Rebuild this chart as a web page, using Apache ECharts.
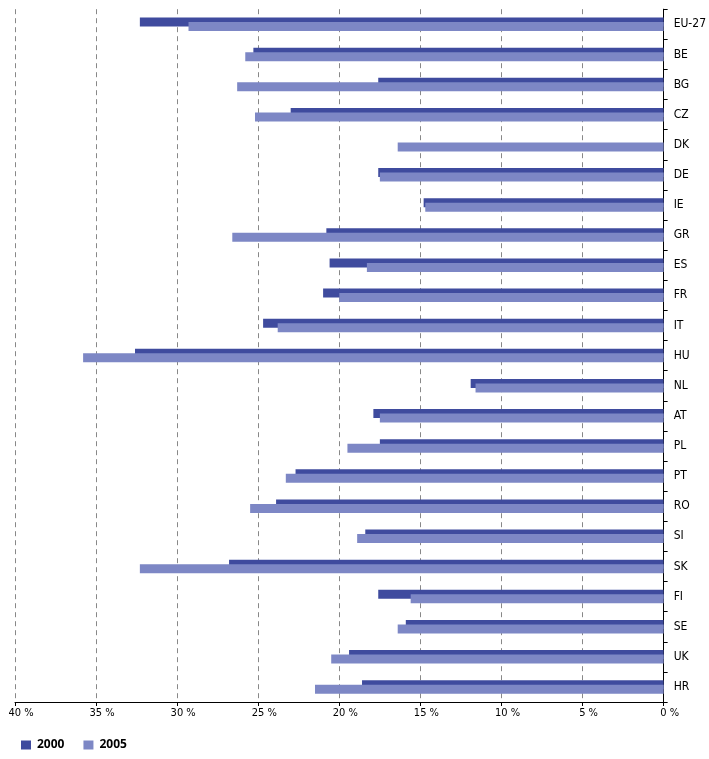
<!DOCTYPE html>
<html>
<head>
<meta charset="utf-8">
<script src="https://cdn.jsdelivr.net/npm/echarts@6/dist/echarts.min.js"></script>
<style>
html,body{margin:0;padding:0;background:#fff;}
#chart{width:709px;height:759px;}
</style>
</head>
<body>
<div id="chart"></div>
<script>
const categories = ["EU-27","BE","BG","CZ","DK","DE","IE","GR","ES","FR","IT","HU","NL","AT","PL","PT","RO","SI","SK","FI","SE","UK","HR"];
const values2000 = [32.3,25.3,17.6,23.0,null,17.6,14.8,20.8,20.6,21.0,24.7,32.6,11.9,17.9,17.5,22.7,23.9,18.4,26.8,17.6,15.9,19.4,18.6];
const values2005 = [29.3,25.8,26.3,25.2,16.4,17.5,14.7,26.6,18.3,20.0,23.8,35.8,11.6,17.5,19.5,23.3,25.5,18.9,32.3,15.6,16.4,20.5,21.5];
const xTicks = [0,5,10,15,20,25,30,35,40];

const FONT = '"Liberation Sans Narrow","DejaVu Sans Condensed","Open Sans",sans-serif';
const chart = echarts.init(document.getElementById('chart'));
chart.setOption({
  animation:false,
  backgroundColor:'#fff',
  textStyle:{fontFamily:FONT},
  grid:{left:15,right:40,top:9.2,bottom:57,containLabel:false},
  legend:{
    left:16, top:734, itemWidth:10, itemHeight:9, itemGap:19,
    icon:'rect',
    textStyle:{fontWeight:'bold',fontSize:12,color:'#000',fontFamily:'"Open Sans","DejaVu Sans",sans-serif',padding:[0,0,0,1]},
    data:['2000','2005']
  },
  xAxis:{
    type:'value', inverse:true, min:xTicks[0], max:xTicks[xTicks.length-1], interval:5,
    axisLine:{show:true,lineStyle:{color:'#000',width:1}},
    axisTick:{show:true,length:4,lineStyle:{color:'#000'}},
    axisLabel:{formatter:v=>v+' %',color:'#000',fontSize:11,margin:6,padding:[0,0,0,12],fontFamily:FONT},
    splitLine:{show:true,lineStyle:{type:[5,4],color:'#888',width:1}}
  },
  yAxis:{
    type:'category', position:'right', inverse:true, data:categories,
    axisLine:{show:true,lineStyle:{color:'#000',width:1}},
    axisTick:{show:true,length:4,lineStyle:{color:'#000'}},
    axisLabel:{color:'#000',fontSize:12,margin:10,fontFamily:FONT},
    splitLine:{show:false}
  },
  series:[
    {name:'2000',type:'bar',data:values2000,barWidth:9,barGap:'-50%',itemStyle:{color:'#3f4b9e'}},
    {name:'2005',type:'bar',data:values2005,barWidth:9,barGap:'-50%',itemStyle:{color:'#7d87c5'}}
  ]
});
</script>
</body>
</html>
